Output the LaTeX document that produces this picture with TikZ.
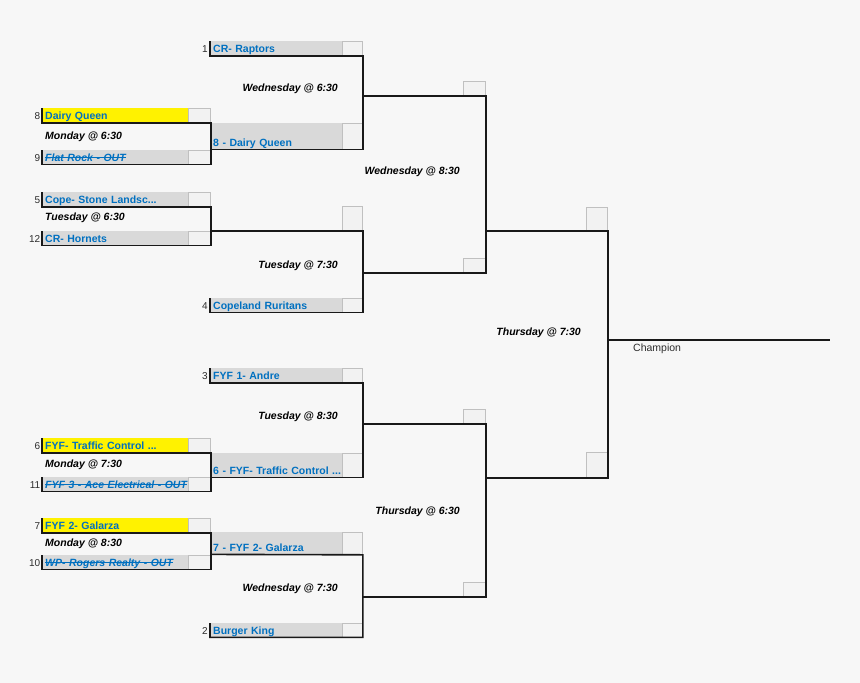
\documentclass[tikz,border=0pt]{standalone}
\usepackage{fontspec}
\setmainfont{Liberation Sans}
\usepackage{tikz}
\usetikzlibrary{positioning}
\definecolor{teamB}{RGB}{0,112,192}
\definecolor{cellG}{RGB}{217,217,217}
\definecolor{boxG}{RGB}{242,242,242}
\definecolor{edgeG}{RGB}{192,192,192}
\definecolor{paper}{RGB}{247,247,247}
\definecolor{lineK}{RGB}{25,25,25}
\definecolor{seedK}{RGB}{45,45,45}
\newlength{\strkw}
\newcommand{\strk}[1]{\settowidth{\strkw}{#1}\rlap{#1}\rule[0.3em]{\strkw}{0.6pt}}

\begin{document}
\begin{tikzpicture}[x=1pt, y=-1pt,
  team/.style={rectangle, anchor=north west, fill=cellG, inner xsep=3pt, inner ysep=0pt,
              text depth=3pt, text height=11pt, align=left, text=teamB,
              font=\fontsize{10.5}{12.5}\selectfont\bfseries},
  lft/.style={team, text width=140pt},
  rgt/.style={team, text width=126pt},
  gone/.style={font=\fontsize{10.5}{12.5}\selectfont\bfseries\itshape},
  score/.style={rectangle, anchor=north west, draw=edgeG, fill=boxG, line width=0.8pt,
              inner sep=0pt, minimum width=#1},
  seed/.style={anchor=base east, inner sep=0pt, font=\fontsize{10}{12}\selectfont, text=seedK},
  game/.style={inner sep=0pt, font=\fontsize{10.5}{12.5}\selectfont\bfseries\itshape},
  bline/.style={draw=lineK, line width=1.6pt}]
  \useasboundingbox[fill=paper] (0,0) rectangle (860,683);

  % score boxes
  \node[score=22pt, minimum height=14pt] (b8)  at (188,108) {};
  \node[score=22pt, minimum height=14pt] (b9)  at (188,150) {};
  \node[score=22pt, minimum height=14pt] (b5)  at (188,192) {};
  \node[score=22pt, minimum height=14pt] (b12) at (188,231) {};
  \node[score=22pt, minimum height=14pt] (b6)  at (188,438) {};
  \node[score=22pt, minimum height=14pt] (b11) at (188,477) {};
  \node[score=22pt, minimum height=14pt] (b7)  at (188,518) {};
  \node[score=22pt, minimum height=14pt] (b10) at (188,555) {};
  \node[score=20pt, minimum height=14pt] (b1)  at (342,41) {};
  \node[score=20pt, minimum height=26pt] (bw1) at (342,123) {};
  \node[score=20pt, minimum height=24pt] (bw2) at (342,206) {};
  \node[score=20pt, minimum height=14pt] (b4)  at (342,298) {};
  \node[score=20pt, minimum height=14pt] (b3)  at (342,368) {};
  \node[score=20pt, minimum height=24pt] (bw3) at (342,453) {};
  \node[score=20pt, minimum height=22pt] (bw4) at (342,532) {};
  \node[score=20pt, minimum height=14pt] (b2)  at (342,623) {};
  \node[score=22pt, minimum height=14pt] (c1)  at (463,81) {};
  \node[score=22pt, minimum height=14pt] (c2)  at (463,258) {};
  \node[score=22pt, minimum height=14pt] (c3)  at (463,409) {};
  \node[score=22pt, minimum height=14pt] (c4)  at (463,582) {};
  \node[score=21pt, minimum height=23pt] (d1)  at (586,207) {};
  \node[score=21pt, minimum height=25pt] (d2)  at (586,452) {};

  % first round
  \node[lft, fill=yellow] (r8)  at (42,108) {Dairy Queen};
  \node[lft, gone]        (r9)  at (42,150) {\strk{Flat Rock - OUT}};
  \node[lft]              (r5)  at (42,192) {Cope- Stone Landsc...};
  \node[lft]              (r12) at (42,231) {CR- Hornets};
  \node[lft, fill=yellow] (r6)  at (42,438) {FYF- Traffic Control ...};
  \node[lft, gone]        (r11) at (42,477) {\strk{FYF 3 - Ace Electrical - OUT}};
  \node[lft, fill=yellow] (r7)  at (42,518) {FYF 2- Galarza};
  \node[lft, gone]        (r10) at (42,555) {\strk{WP- Rogers Realty - OUT}};

  % second round
  \node[rgt]                   (r1) at (210,41)  {CR- Raptors};
  \node[rgt, text height=23pt] (w1) at (210,123) {8 - Dairy Queen};
  \node[rgt]                   (r4) at (210,298) {Copeland Ruritans};
  \node[rgt]                   (r3) at (210,368) {FYF 1- Andre};
  \node[rgt, text height=21pt] (w3) at (210,453) {\rlap{6 - FYF- Traffic Control ...}};
  \node[rgt, text height=19pt] (w4) at (210,532) {7 - FYF 2- Galarza};
  \node[rgt]                   (r2) at (210,623) {Burger King};

  % seeds
  \node[seed] (n8)  at (40.5,119) {8};
  \node[seed] (n9)  at (40.5,161) {9};
  \node[seed] (n5)  at (40.5,203) {5};
  \node[seed] (n12) at (40.5,242) {12};
  \node[seed] (n6)  at (40.5,449) {6};
  \node[seed] (n11) at (40.5,488) {11};
  \node[seed] (n7)  at (40.5,529) {7};
  \node[seed] (n10) at (40.5,566) {10};
  \node[seed] (n1)  at (208,52)  {1};
  \node[seed] (n4)  at (208,309) {4};
  \node[seed] (n3)  at (208,379) {3};
  \node[seed] (n2)  at (208,634) {2};

  % game times
  \node[game, anchor=west] (g1) at (45,137) {Monday @ 6:30};
  \node[game, anchor=west] (g2) at (45,218) {Tuesday @ 6:30};
  \node[game, anchor=west] (g3) at (45,465) {Monday @ 7:30};
  \node[game, anchor=west] (g4) at (45,544) {Monday @ 8:30};
  \node[game, anchor=east] (q1) at (338,89)  {Wednesday @ 6:30};
  \node[game, anchor=east] (q2) at (338,266) {Tuesday @ 7:30};
  \node[game, anchor=east] (q3) at (338,417) {Tuesday @ 8:30};
  \node[game, anchor=east] (q4) at (338,589) {Wednesday @ 7:30};
  \node[game, anchor=east] (s1) at (460,172) {Wednesday @ 8:30};
  \node[game, anchor=east] (s2) at (460,512) {Thursday @ 6:30};
  \node[game, anchor=east] (fn) at (581,333) {Thursday @ 7:30};

  \coordinate (ch) at (830,340);
  \node[anchor=west, inner sep=0pt, font=\fontsize{10.5}{12.5}\selectfont, text=seedK]
      (champ) at (633,349) {Champion};

  % bracket lines
  \draw[bline] (r8.north west) |- (b8.south east) |- (r9.south west) -- (r9.north west);
  \draw[bline] (r5.north west) |- (b5.south east) |- (r12.south west) -- (r12.north west);
  \draw[bline] (r6.north west) |- (b6.south east) |- (r11.south west) -- (r11.north west);
  \draw[bline] (r7.north west) |- (b7.south east) |- (r10.south west) -- (r10.north west);
  \draw[bline] (r1.north west) |- (b1.south east) |- (w1.south west);
  \draw[bline] (bw2.south east -| b12.east) -- (bw2.south east) |- (r4.south west) -- (r4.north west);
  \draw[bline] (r3.north west) |- (b3.south east) |- (w3.south west);
  \draw[bline] (w4.south west) -- (bw4.south east) |- (r2.south west) -- (r2.north west);
  \draw[bline] (c1.south east -| b1.east) -- (c1.south east) |- (c2.south east) -- (c2.south east -| b1.east);
  \draw[bline] (c3.south east -| b3.east) -- (c3.south east) |- (c4.south east) -- (c4.south east -| b3.east);
  \draw[bline] (d1.south east -| c1.east) -- (d1.south east) |- (d2.south east) -- (d2.south east -| c1.east);
  \draw[line width=1.2pt, draw=lineK] (d1.east |- ch) -- (ch);
\end{tikzpicture}
\end{document}
